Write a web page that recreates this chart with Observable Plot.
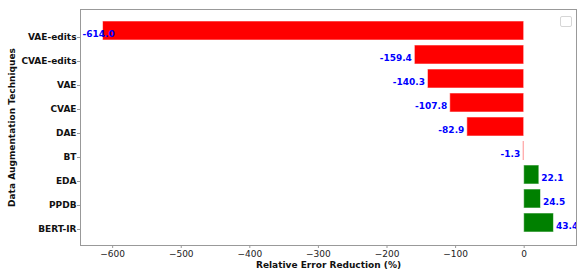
<!DOCTYPE html>
<html>
<head>
<meta charset="utf-8">
<script src="https://cdn.jsdelivr.net/npm/d3@7"></script>
<script src="https://cdn.jsdelivr.net/npm/@observablehq/plot@0.6"></script>
<style>
  html, body { margin: 0; padding: 0; background: #fff; }
  #wrap { position: relative; width: 577px; height: 269px; }
  #legendbox { position: absolute; left: 560px; top: 16px; width: 10px; height: 9px;
    border: 1px solid #d6d6d6; border-radius: 2px; background: #fff; }
</style>
</head>
<body>
<div id="wrap"><div id="legendbox"></div></div>
<script>
const techniques = ["VAE-edits", "CVAE-edits", "VAE", "CVAE", "DAE", "BT", "EDA", "PPDB", "BERT-IR"];
const reductions = [-614.0, -159.4, -140.3, -107.8, -82.9, -1.3, 22.1, 24.5, 43.4];
const xTicks = [-600, -500, -400, -300, -200, -100, 0];
const xTitle = "Relative Error Reduction (%)";
const yTitle = "Data Augmentation Techniques";

const data = techniques.map((name, i) => ({name, value: reductions[i]}));
const vmin = d3.min(reductions), vmax = d3.max(reductions);
const pad = (vmax - vmin) * 0.05;

const chart = Plot.plot({
  width: 577,
  height: 269,
  marginLeft: 80,
  marginTop: 9,
  marginRight: 1,
  marginBottom: 24,
  style: {fontFamily: "DejaVu Sans", fontSize: "9px", color: "#000", background: "#fff"},
  x: {domain: [vmin - pad, vmax + pad]},
  y: {domain: techniques, paddingInner: 0.2, paddingOuter: 0.44},
  color: {type: "identity"},
  marks: [
    Plot.barX(data, {x: "value", y: "name", fill: d => d.value < 0 ? "#ff0000" : "#008000",
      stroke: "#ffffff", strokeOpacity: 0.55, strokeWidth: 1}),
    Plot.text(data.filter(d => d.value < 0 && d.value >= -600), {x: "value", y: "name",
      text: d => d.value.toFixed(1), textAnchor: "end", dx: -3, dy: 3.5,
      fill: "#0000ff", fontWeight: "bold", fontSize: 9}),
    Plot.text(data.filter(d => d.value < -600), {y: "name", frameAnchor: "left",
      text: d => d.value.toFixed(1), textAnchor: "start", dx: 2, dy: 3.5,
      fill: "#0000ff", fontWeight: "bold", fontSize: 9}),
    Plot.text(data.filter(d => d.value >= 0), {x: "value", y: "name",
      text: d => d.value.toFixed(1), textAnchor: "start", dx: 2, dy: 3.5,
      fill: "#0000ff", fontWeight: "bold", fontSize: 9}),
    Plot.axisX({ticks: xTicks, tickSize: 3, tickPadding: 2, stroke: "#999", fill: "#222",
      label: xTitle, labelAnchor: "center", labelOffset: 22, labelArrow: "none"}),
    Plot.axisY({tickSize: 3, tickPadding: 1, stroke: "#999", fill: "#111", fontWeight: "bold",
      dy: 6.5, label: null}),
    Plot.axisY({ticks: [], tickSize: 0, fill: "#111", fontWeight: "bold", dy: 3.5,
      label: yTitle, labelAnchor: "center", labelOffset: 72, labelArrow: "none"}),
    Plot.frame({stroke: "#999"})
  ]
});
d3.select(chart).selectAll('[aria-label="x-axis label"] text, [aria-label="x-axis label"]').attr("font-weight", "bold").attr("fill", "#111");
document.getElementById("wrap").prepend(chart);
</script>
</body>
</html>
